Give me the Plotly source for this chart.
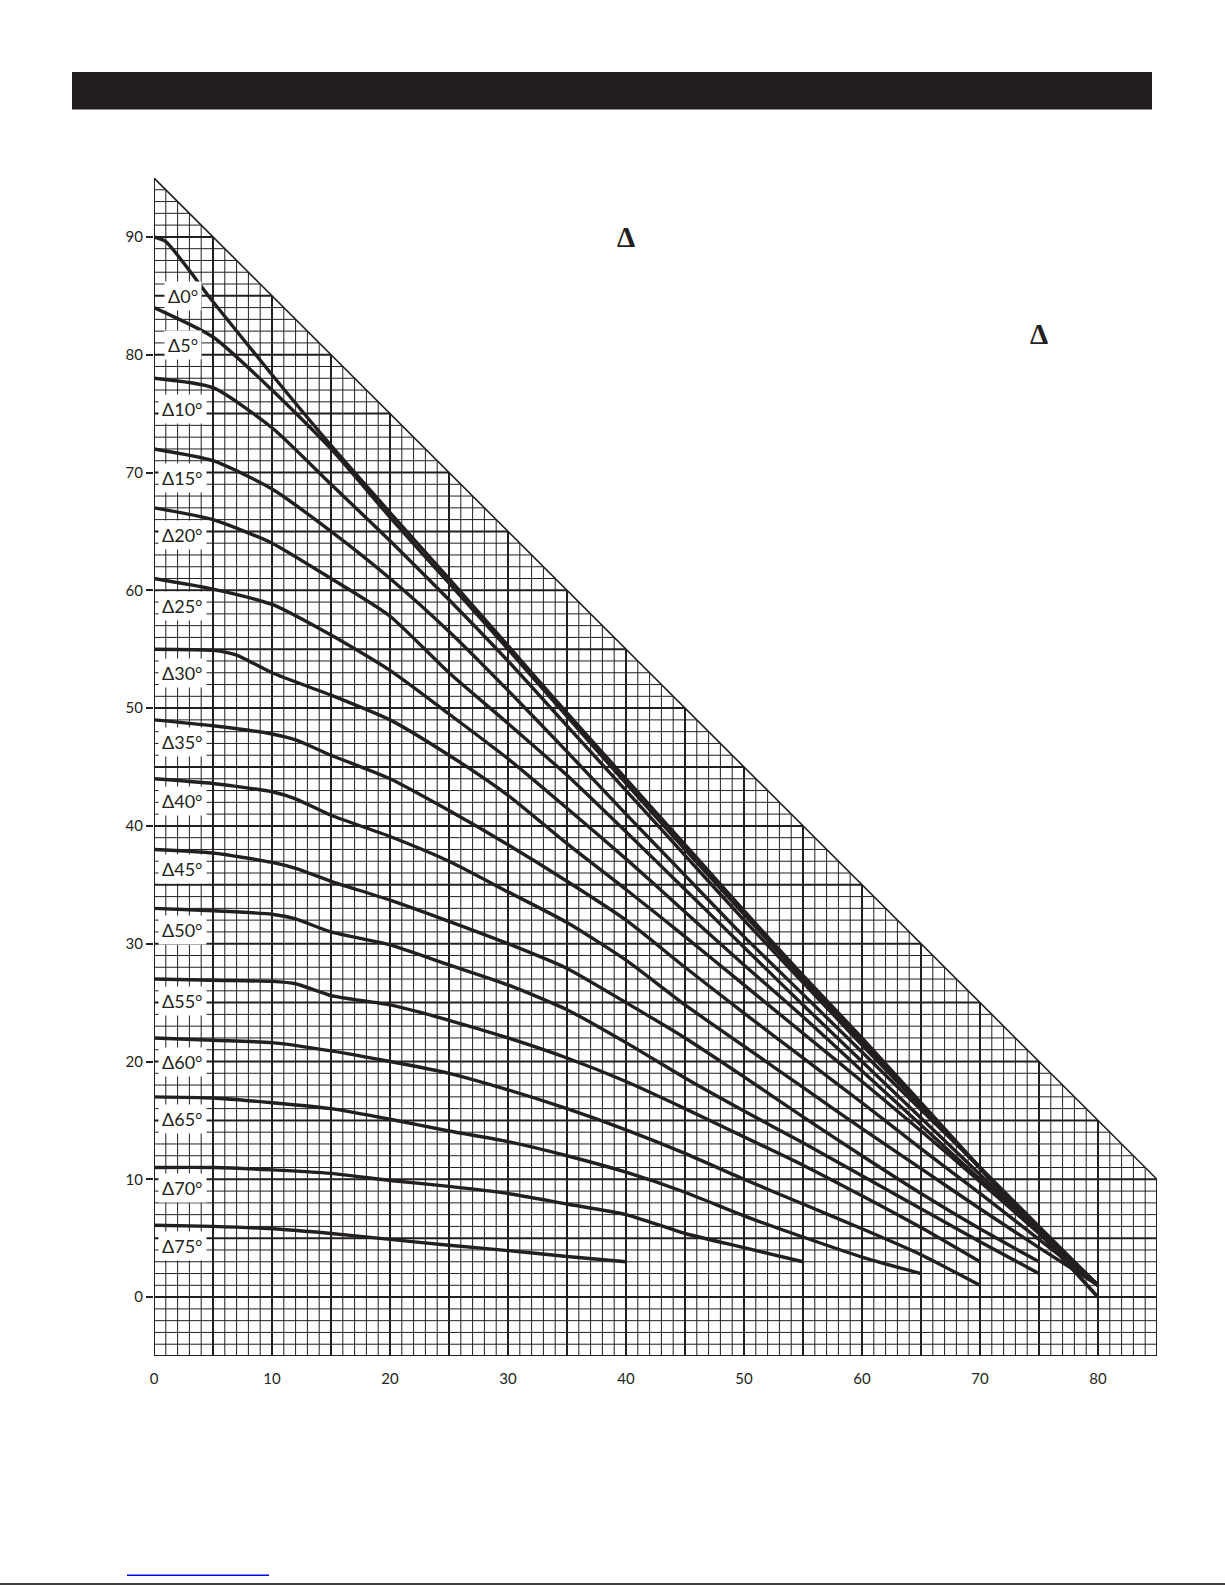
import plotly.graph_objects as go

# ---------------- data ----------------
labels = ["Δ0°", "Δ5°", "Δ10°", "Δ15°", "Δ20°", "Δ25°", "Δ30°", "Δ35°",
          "Δ40°", "Δ45°", "Δ50°", "Δ55°", "Δ60°", "Δ65°", "Δ70°", "Δ75°"]
label_y = [85.0, 80.8, 75.4, 69.5, 64.7, 58.7, 53.0, 47.1,
           42.1, 36.3, 31.2, 25.1, 20.0, 15.1, 9.3, 4.3]

d0_x = [0, 1, 5, 10, 15, 20, 25, 30, 35, 40, 45, 50, 55, 60, 65, 70, 75, 80]
d0_y = [90, 89.6, 84.5, 78.3, 72.3, 66.6, 61, 55.3, 49.6, 44, 38.4, 32.8, 27.3, 22, 16.5, 11, 5.5, 0]
d5_x = [0, 5, 10, 15, 20, 25, 30, 35, 40, 45, 50, 55, 60, 65, 70, 75, 80]
d5_y = [84, 81.5, 77, 72, 66.2, 60.6, 55, 49.3, 43.6, 38, 32.5, 27, 21.7, 16.3, 10.9, 5.5, 0]
d10_x = [0, 5, 10, 15, 20, 25, 30, 35, 40, 45, 50, 55, 60, 65, 70, 75, 80]
d10_y = [78, 77.2, 73.8, 69, 64.2, 59.2, 54, 48.5, 43, 37.5, 32, 26.7, 21.4, 16.2, 11, 5.9, 1]
d15_x = [0, 5, 10, 15, 20, 25, 30, 35, 40, 45, 50, 55, 60, 65, 70, 75, 80]
d15_y = [72, 71, 68.6, 65, 61, 56.5, 51.5, 46.3, 41, 35.8, 30.6, 25.7, 20.8, 15.9, 11, 6, 1]
d20_x = [0, 5, 10, 15, 20, 25, 30, 35, 40, 45, 50, 55, 60, 65, 70, 75, 80]
d20_y = [67, 66, 64, 61, 57.8, 53, 48.7, 44.3, 39.5, 34.6, 29.7, 24.8, 20, 15.2, 10.4, 5.6, 1]
d25_x = [0, 5, 10, 15, 20, 25, 30, 35, 40, 45, 50, 55, 60, 65, 70, 75, 80]
d25_y = [61, 60.1, 58.8, 56.2, 53.2, 49.5, 45.7, 41.5, 37.2, 32.7, 28.2, 23.8, 19.2, 14.6, 10, 5.5, 1]
d30_x = [0, 5, 7, 10, 15, 20, 25, 30, 35, 40, 45, 50, 55, 60, 65, 70, 75, 80]
d30_y = [55, 54.9, 54.5, 53, 51.1, 49, 46, 42.6, 38.5, 34.6, 30.6, 26.5, 22.4, 18.3, 14.1, 9.8, 5.4, 1]
d35_x = [0, 5, 10, 12, 15, 20, 25, 30, 35, 40, 45, 50, 55, 60, 65, 70, 75, 80]
d35_y = [49, 48.5, 47.8, 47.3, 46, 44, 41.3, 38.4, 35.3, 32, 28, 24.1, 20.3, 16.5, 12.6, 8.8, 4.9, 1]
d40_x = [0, 5, 10, 12, 15, 20, 25, 30, 35, 40, 45, 50, 55, 60, 65, 70, 75, 80]
d40_y = [44, 43.6, 42.9, 42.3, 40.9, 39.1, 37, 34.4, 31.8, 28.6, 24.8, 21.3, 17.8, 14.3, 10.9, 7.5, 4.2, 1]
d45_x = [0, 5, 10, 12, 15, 20, 25, 30, 35, 40, 45, 50, 55, 60, 65, 70, 75]
d45_y = [38, 37.7, 36.9, 36.4, 35.3, 33.7, 31.9, 30, 27.9, 25, 22, 18.7, 15.3, 12, 8.8, 5.8, 3]
d50_x = [0, 5, 10, 12, 15, 20, 25, 30, 35, 40, 45, 50, 55, 60, 65, 70, 75]
d50_y = [33, 32.8, 32.5, 32.1, 31, 29.9, 28.2, 26.5, 24.4, 21.6, 18.6, 15.8, 13.1, 10.3, 7.5, 4.7, 2]
d55_x = [0, 5, 10, 12, 15, 20, 25, 30, 35, 40, 45, 50, 55, 60, 65, 70]
d55_y = [27, 26.9, 26.8, 26.6, 25.6, 24.8, 23.5, 22, 20.3, 18.3, 16, 13.6, 11.2, 8.6, 5.9, 3]
d60_x = [0, 5, 10, 15, 20, 25, 30, 35, 40, 45, 50, 55, 60, 65, 70]
d60_y = [22, 21.8, 21.6, 20.9, 20, 19, 17.6, 16, 14.2, 12.2, 10, 7.9, 5.8, 3.6, 1]
d65_x = [0, 5, 10, 15, 20, 25, 30, 35, 40, 45, 50, 55, 60, 65]
d65_y = [17, 16.9, 16.5, 16, 15.1, 14.1, 13.2, 12, 10.6, 8.9, 6.9, 5.1, 3.4, 2]
d70_x = [0, 5, 10, 15, 20, 25, 30, 35, 40, 45, 50, 55]
d70_y = [11, 11, 10.8, 10.5, 9.9, 9.4, 8.8, 7.9, 7, 5.4, 4.2, 3]
d75_x = [0, 5, 10, 15, 20, 25, 30, 35, 40]
d75_y = [6.1, 6, 5.8, 5.4, 4.9, 4.4, 3.95, 3.45, 3]

series_x = [d0_x, d5_x, d10_x, d15_x, d20_x, d25_x, d30_x, d35_x,
            d40_x, d45_x, d50_x, d55_x, d60_x, d65_x, d70_x, d75_x]
series_y = [d0_y, d5_y, d10_y, d15_y, d20_y, d25_y, d30_y, d35_y,
            d40_y, d45_y, d50_y, d55_y, d60_y, d65_y, d70_y, d75_y]

x_ticks = [0, 10, 20, 30, 40, 50, 60, 70, 80]
y_ticks = [0, 10, 20, 30, 40, 50, 60, 70, 80, 90]

# ---------------- layout geometry ----------------
W, H = 1225, 1585
ML, MT, PW, PH = 154, 178, 1003, 1178
X_MIN, X_MAX, Y_MIN, Y_MAX = 0, 85, -5, 95
INK = "#231f20"


def xp(px):
    return (px - ML) / PW


def yp(py):
    return (MT + PH - py) / PH


fig = go.Figure()

# grid clipped by the diagonal x + y = 95
minor_x, minor_y, major_x, major_y = [], [], [], []
for i in range(X_MIN, X_MAX + 1):
    top = min(Y_MAX, 95 - i)
    tx, ty = (major_x, major_y) if i % 5 == 0 else (minor_x, minor_y)
    tx += [i, i, None]
    ty += [Y_MIN, top, None]
for j in range(Y_MIN, Y_MAX + 1):
    right = min(X_MAX, 95 - j)
    tx, ty = (major_x, major_y) if j % 5 == 0 else (minor_x, minor_y)
    tx += [X_MIN, right, None]
    ty += [j, j, None]

fig.add_trace(go.Scatter(x=minor_x, y=minor_y, mode="lines",
                         line=dict(color=INK, width=1), hoverinfo="skip"))
fig.add_trace(go.Scatter(x=major_x, y=major_y, mode="lines",
                         line=dict(color=INK, width=2), hoverinfo="skip"))
# outline
fig.add_trace(go.Scatter(x=[0, 0, 85, 85, 0], y=[-5, 95, 10, -5, -5], mode="lines",
                         line=dict(color=INK, width=1.6), hoverinfo="skip"))

for sx, sy, name in zip(series_x, series_y, labels):
    fig.add_trace(go.Scatter(x=sx, y=sy, mode="lines", name=name,
                             line=dict(color=INK, width=3.4, shape="spline", smoothing=0.6)))

for name, ly in zip(labels, label_y):
    fig.add_annotation(x=2.45, y=ly, xref="x", yref="y", text=name, showarrow=False,
                       font=dict(family="Lato", size=18, color=INK),
                       bgcolor="white", borderpad=3, xanchor="center", yanchor="middle")

# stray delta symbols above the chart
for cx, cy in [(626, 237), (1039, 334)]:
    fig.add_annotation(x=xp(cx), y=yp(cy), xref="paper", yref="paper", text="<b>Δ</b>",
                       showarrow=False, font=dict(family="Liberation Serif", size=29, color=INK),
                       xanchor="center", yanchor="middle")

# header bar
fig.add_shape(type="rect", xref="paper", yref="paper", x0=xp(72), x1=xp(1152),
              y0=yp(109.5), y1=yp(72), fillcolor=INK, line=dict(width=0), layer="above")
# bottom rule and link underline
fig.add_shape(type="line", xref="paper", yref="paper", x0=xp(0), x1=xp(1225),
              y0=yp(1584), y1=yp(1584), line=dict(color="black", width=1.6))
fig.add_shape(type="line", xref="paper", yref="paper", x0=xp(127), x1=xp(269),
              y0=yp(1575.3), y1=yp(1575.3), line=dict(color="#0000ee", width=1.4))

fig.update_xaxes(range=[X_MIN, X_MAX], showgrid=False, zeroline=False, showline=False,
                 tickmode="array", tickvals=x_ticks, ticktext=[str(v) for v in x_ticks],
                 ticks="outside", ticklen=9, tickcolor="rgba(0,0,0,0)",
                 tickfont=dict(family="Lato", size=15, color=INK))
fig.update_yaxes(range=[Y_MIN, Y_MAX], showgrid=False, zeroline=False, showline=False,
                 tickmode="array", tickvals=y_ticks, ticktext=[str(v) for v in y_ticks],
                 ticks="outside", ticklen=7, tickwidth=1.5, tickcolor=INK,
                 tickfont=dict(family="Lato", size=15, color=INK))

fig.update_layout(width=W, height=H, showlegend=False,
                  margin=dict(l=ML, t=MT, r=W - ML - PW, b=H - MT - PH, pad=0),
                  paper_bgcolor="white", plot_bgcolor="white")

fig.write_html("out.html", config={"displayModeBar": False},
               post_script="document.body.style.margin='0';document.body.style.overflow='hidden';")
